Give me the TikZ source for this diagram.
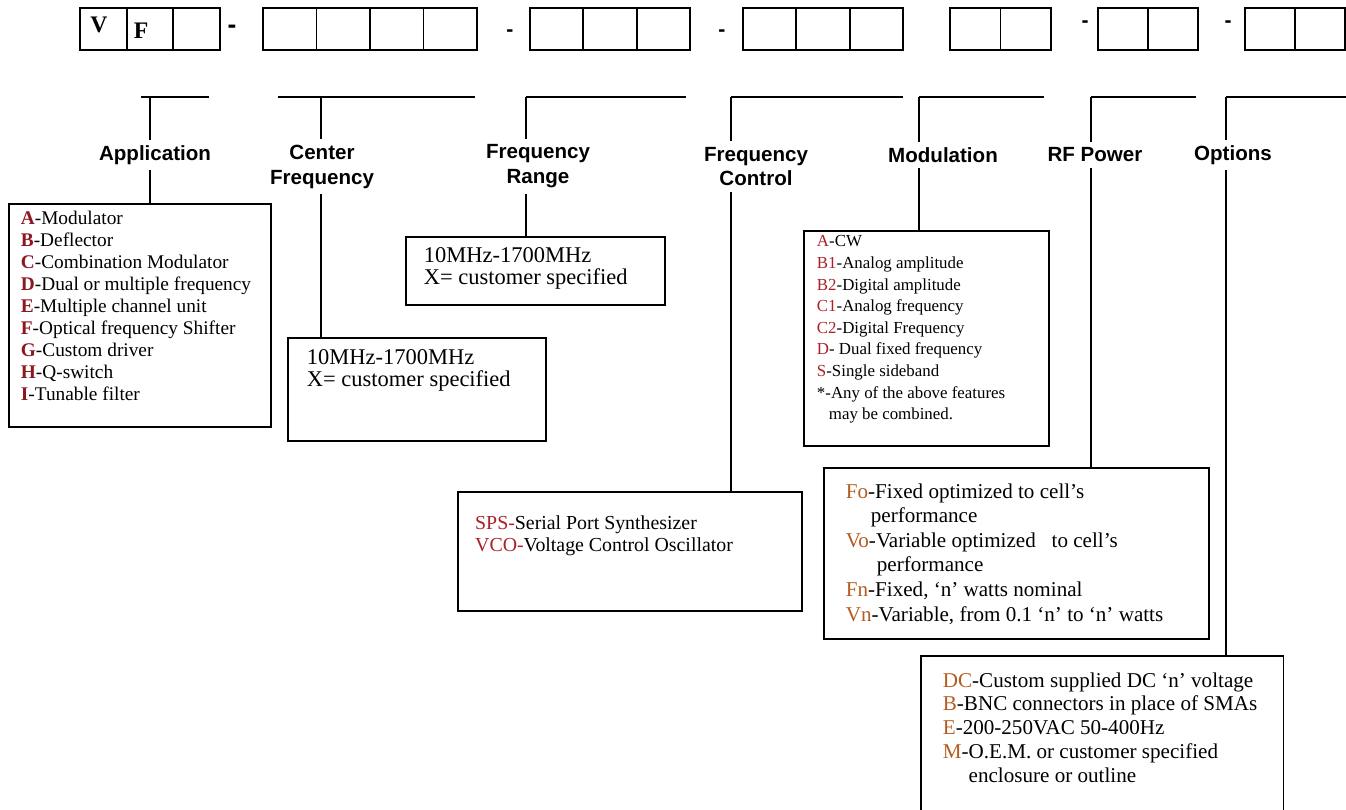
\documentclass[tikz,border=0pt]{standalone}
\usepackage{fontspec}
\setmainfont{Liberation Serif}
\newfontfamily\hdrfont{Liberation Sans}
\usetikzlibrary{positioning}

\definecolor{appred}{RGB}{140,24,32}
\definecolor{modred}{RGB}{168,34,40}
\definecolor{optbrown}{RGB}{180,92,32}

\newcommand{\appkey}[1]{\textcolor{appred}{\textbf{#1}}}
\newcommand{\modkey}[1]{\textcolor{modred}{#1}}
\newcommand{\optkey}[1]{\textcolor{optbrown}{#1}}
% width, height, top pad, left pad, lines
\newcommand{\specbox}[5]{\begin{minipage}[t][#2][t]{#1}\leftskip=#4\relax\vspace*{#3}#5\end{minipage}}

\tikzset{
  cellline/.style={line width=1.1pt},
  conn/.style={line width=0.8pt},
  codeletter/.style={font=\bfseries\fontsize{13.5}{13.5}\selectfont, inner sep=0pt},
  dashsign/.style={font=\hdrfont\bfseries\fontsize{#1}{#1}\selectfont, inner sep=0pt},
  hdr/.style={font=\hdrfont\bfseries\fontsize{11.7}{14.2}\selectfont, align=center, inner sep=3pt},
  spec/.style={draw, line width=1.1pt, anchor=north west, inner sep=0pt},
}

\begin{document}
\begin{tikzpicture}[x=0.02cm, y=-0.02cm]

\useasboundingbox (0,0) rectangle (1346,809);

% part number boxes
\foreach \gx/\n/\w in {80/3/46.67,263/4/53.5,530/3/53.33,743/3/53.33,950/2/50.5,1098/2/50,1245/2/50}
\foreach \i in {1,...,\n}
\draw[cellline] ({\gx+(\i-1)*\w},8) rectangle +(\w,42);

% fixed letters
\node[codeletter] (lv) at (99,25) {V};
\node[codeletter] (lf) at (141,31) {F};

% separators
\foreach \x/\y/\s [count=\k] in {232/29/15,510/33/12,722/33/12,1085/24/12,1228/24/12}
\node[dashsign=\s] (dash\k) at (\x,\y) {-};

% brackets
\foreach \k/\xa/\xv/\xb in {1/141/150/209,2/278/321/475,3/526/526/686,4/731/731/903,5/919/919/1044,6/1091/1091/1196,7/1226/1226/1346}{
\coordinate (ha\k) at (\xa,97);
\coordinate (hv\k) at (\xv,97);
\coordinate (hb\k) at (\xb,97);
\draw[conn] (ha\k) -- (hb\k);
}

% headings
\node[hdr] (app) at (155,155) {Application};
\node[hdr] (cf) at (322,166.5) {Center\\Frequency};
\node[hdr] (rng) at (538,166.5) {Frequency\\Range};
\node[hdr] (ctl) at (756,166.5) {Frequency\\Control};
\node[hdr] (mod) at (943,155) {Modulation};
\node[hdr] (rfp) at (1095,155) {RF Power};
\node[hdr] (opt) at (1233,155) {Options};

% APPLICATION
\node[spec] (bapp) at (8,203) {\specbox{149.1pt}{127pt}{4.2pt}{6.8pt}{\fontsize{11}{12.5}\selectfont
\appkey{A}-Modulator\\
\appkey{B}-Deflector\\
\appkey{C}-Combination Modulator\\
\appkey{D}-Dual or multiple frequency\\
\appkey{E}-Multiple channel unit\\
\appkey{F}-Optical frequency Shifter\\
\appkey{G}-Custom driver\\
\appkey{H}-Q-switch\\
\appkey{I}-Tunable filter}};

% CENTER FREQUENCY
\node[spec] (bcf) at (287,337) {\specbox{146.8pt}{58.4pt}{6.7pt}{10.8pt}{\fontsize{12.8}{12.5}\selectfont
10MHz-1700MHz\\
X= customer specified}};

% FREQUENCY RANGE
\node[spec] (brange) at (405,236) {\specbox{147.4pt}{38.5pt}{6pt}{10.2pt}{\fontsize{12.8}{12.5}\selectfont
10MHz-1700MHz\\
X= customer specified}};

% FREQUENCY CONTROL
\node[spec] (bctl) at (457,491) {\specbox{195.6pt}{68pt}{13.6pt}{9.8pt}{\fontsize{11.3}{12.6}\selectfont
\modkey{SPS-}Serial Port Synthesizer\\
\modkey{VCO-}Voltage Control Oscillator}};

% MODULATION
\node[spec] (bmod) at (803,230) {\specbox{139.5pt}{122.4pt}{2.7pt}{7.4pt}{\fontsize{9.6}{12.3}\selectfont
\modkey{A}-CW\\
\modkey{B1}-Analog amplitude\\
\modkey{B2}-Digital amplitude\\
\modkey{C1}-Analog frequency\\
\modkey{C2}-Digital Frequency\\
\modkey{D}- Dual fixed frequency\\
\modkey{S}-Single sideband\\
{*}-Any of the above features\\
\hspace*{6.8pt}may be combined.}};

% RF POWER
\node[spec] (brf) at (823,467) {\specbox{219.4pt}{97.5pt}{8.8pt}{12.5pt}{\fontsize{12}{14}\selectfont
\optkey{Fo}-Fixed optimized to cell’s\\
\hspace*{14.2pt}performance\\
\optkey{Vo}-Variable optimized\ \ \ to cell’s\\
\hspace*{17.6pt}performance\\
\optkey{Fn}-Fixed, ‘n’ watts nominal\\
\optkey{Vn}-Variable, from 0.1 ‘n’ to ‘n’ watts}};

% OPTIONS
\node[spec, draw=none] (bopt) at (921,656) {\specbox{205.2pt}{86.7pt}{8.8pt}{11.9pt}{\fontsize{12}{13.6}\selectfont
\optkey{DC}-Custom supplied DC ‘n’ voltage\\
\optkey{B}-BNC connectors in place of SMAs\\
\optkey{E}-200-250VAC 50-400Hz\\
\optkey{M}-O.E.M. or customer specified\\
\hspace*{14.7pt}enclosure or outline}};
\draw[line width=1.1pt] (bopt.south west) |- (bopt.north east) -- (bopt.south east);

% connectors
\foreach \k/\lbl/\bx in {1/app/bapp,2/cf/bcf,3/rng/brange,4/ctl/bctl,5/mod/bmod,6/rfp/brf,7/opt/bopt}{
\draw[conn] (hv\k) -- (hv\k |- \lbl.north);
\draw[conn] (hv\k |- \lbl.south) -- (hv\k |- \bx.north);
}

\end{tikzpicture}
\end{document}
